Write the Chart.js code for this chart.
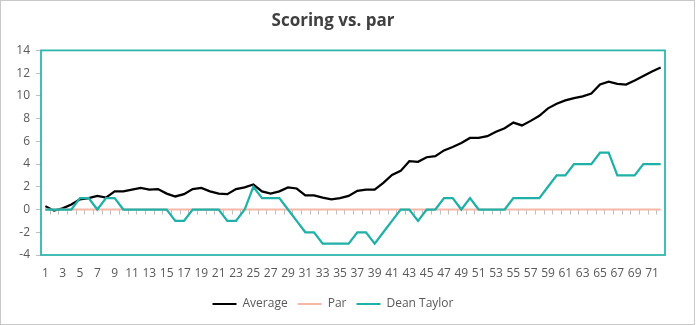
<!DOCTYPE html>
<html>
<head>
<meta charset="utf-8">
<script src="https://cdn.jsdelivr.net/npm/chart.js@4"></script>
<style>
  body { margin: 0; background: #fff; }
  #wrap { position: absolute; left: 0; top: 0; width: 693px; height: 323px; border: 1px solid #c8c8c8; }
</style>
</head>
<body>
<div id="wrap"><canvas id="scoreChart" width="693" height="323"></canvas></div>
<script>
const rounds = Array.from({ length: 72 }, (_, i) => String(i + 1));

const average = [0.3, -0.1, 0.1, 0.45, 0.9, 1.0, 1.2, 1.05, 1.6, 1.6,
  1.75, 1.9, 1.75, 1.8, 1.4, 1.15, 1.35, 1.8, 1.9, 1.6,
  1.4, 1.35, 1.8, 1.95, 2.2, 1.6, 1.4, 1.6, 1.95, 1.85,
  1.25, 1.25, 1.05, 0.9, 1.0, 1.2, 1.65, 1.75, 1.75, 2.35,
  3.05, 3.4, 4.25, 4.2, 4.6, 4.7, 5.2, 5.5, 5.85, 6.3,
  6.3, 6.45, 6.85, 7.15, 7.65, 7.4, 7.8, 8.25, 8.9, 9.3,
  9.6, 9.8, 9.95, 10.2, 11.0, 11.25, 11.05, 11.0, 11.35, 11.75,
  12.15, 12.5];

const par = rounds.map(() => 0);

const deanTaylor = [0, 0, 0, 0, 1, 1, 0, 1, 1, 0,
  0, 0, 0, 0, 0, -1, -1, 0, 0, 0,
  0, -1, -1, 0, 2, 1, 1, 1, 0, -1,
  -2, -2, -3, -3, -3, -3, -2, -2, -3, -2,
  -1, 0, 0, -1, 0, 0, 1, 1, 0, 1,
  0, 0, 0, 0, 1, 1, 1, 1, 2, 3,
  3, 4, 4, 4, 5, 5, 3, 3, 3, 4,
  4, 4];

const yTicks = [-4, -2, 0, 2, 4, 6, 8, 10, 12, 14];

const textColor = '#595959';
const tealColor = '#2bb5ab';

// plot border and the little category ticks along the zero line
const plotFrame = {
    id: 'plotFrame',
    beforeDatasetsDraw(chart) {
        const { ctx, scales } = chart;
        const xs = scales.x;
        const y0 = scales.y.getPixelForValue(0);
        ctx.save();
        ctx.strokeStyle = '#bfbfbf';
        ctx.lineWidth = 1;
        const step = (xs.right - xs.left) / rounds.length;
        for (let i = 1; i < rounds.length; i++) {
            const x = Math.round(xs.left + i * step) + 0.5;
            ctx.beginPath();
            ctx.moveTo(x, y0);
            ctx.lineTo(x, y0 + 5);
            ctx.stroke();
        }
        ctx.restore();
    },
    afterDraw(chart) {
        const { ctx, chartArea } = chart;
        ctx.save();
        ctx.strokeStyle = tealColor;
        ctx.lineWidth = 1.75;
        ctx.strokeRect(chartArea.left, chartArea.top, chartArea.right - chartArea.left, chartArea.bottom - chartArea.top);
        ctx.restore();
    }
};

const ctx = document.getElementById('scoreChart').getContext('2d');
new Chart(ctx, {
    type: 'line',
    data: {
        labels: rounds,
        datasets: [
            {
                label: 'Average',
                data: average,
                borderColor: '#000000',
                backgroundColor: '#000000',
                borderWidth: 2.25,
                pointRadius: 0,
                order: 2
            },
            {
                label: 'Par',
                data: par,
                borderColor: '#f5b8a8',
                backgroundColor: '#f5b8a8',
                borderWidth: 2,
                pointRadius: 0,
                order: 1
            },
            {
                label: 'Dean Taylor',
                data: deanTaylor,
                borderColor: '#1fb0a8',
                backgroundColor: '#1fb0a8',
                borderWidth: 2.25,
                pointRadius: 0,
                order: 0
            }
        ]
    },
    options: {
        responsive: false,
        animation: false,
        layout: { padding: { left: 0, right: 29, top: 0, bottom: 4 } },
        font: { family: '"Open Sans", sans-serif' },
        scales: {
            x: {
                offset: true,
                grid: { display: false, drawTicks: false },
                border: { display: false },
                ticks: {
                    autoSkip: false,
                    maxRotation: 0,
                    padding: 11,
                    color: textColor,
                    font: { size: 12, family: '"Open Sans", sans-serif' },
                    callback: (val, i) => (i % 2 === 0 ? rounds[i] : '')
                },
                afterFit: s => { s.height = 33; }
            },
            y: {
                min: -4,
                max: 14,
                afterBuildTicks: s => { s.ticks = yTicks.map(v => ({ value: v })); },
                grid: { display: true, drawOnChartArea: false, drawTicks: true, tickLength: 5, color: '#bfbfbf' },
                border: { display: false },
                ticks: {
                    padding: 6,
                    color: textColor,
                    font: { size: 12, family: '"Open Sans", sans-serif' }
                },
                afterFit: s => { s.width = 40; }
            }
        },
        plugins: {
            title: {
                display: true,
                text: 'Scoring vs. par',
                color: '#404040',
                font: { size: 17, weight: 'bold', family: '"Open Sans", sans-serif' },
                padding: { top: 10, bottom: 19 }
            },
            legend: {
                position: 'bottom',
                labels: {
                    color: textColor,
                    boxWidth: 24,
                    boxHeight: 2,
                    padding: 10,
                    font: { size: 12, family: '"Open Sans", sans-serif' },
                    sort: (a, b) => a.datasetIndex - b.datasetIndex,
                    generateLabels: chart => Chart.defaults.plugins.legend.labels.generateLabels(chart)
                        .map(item => Object.assign(item, { lineWidth: 0 }))
                }
            },
            tooltip: { enabled: false }
        }
    },
    plugins: [plotFrame]
});
</script>
</body>
</html>
